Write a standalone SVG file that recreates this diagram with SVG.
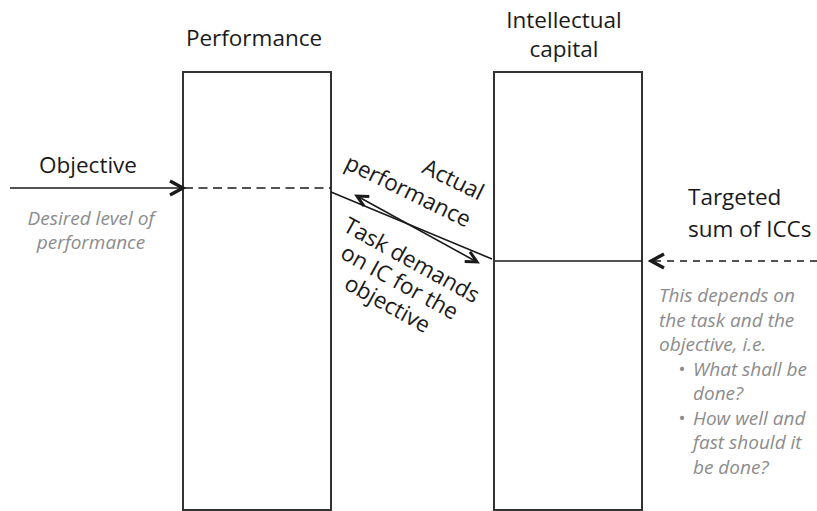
<svg xmlns="http://www.w3.org/2000/svg" width="817" height="511" viewBox="0 0 817 511">
  <style>
    .box { fill: #ffffff; stroke: #333333; stroke-width: 2; }
    .title { font-family: "Open Sans", "Liberation Sans", sans-serif; font-size: 22.5px; fill: #1a1a1a; }
    .note { font-family: "Open Sans", "Liberation Sans", sans-serif; font-size: 19px; font-style: italic; fill: #8c8c8c; }
    .wire { fill: none; stroke: #1a1a1a; stroke-width: 1.6; }
    .dash { fill: none; stroke: #1a1a1a; stroke-width: 1.5; }
  </style>
  <defs>
    <marker id="chev" viewBox="0 0 18 18" refX="15" refY="9" markerWidth="18" markerHeight="18" markerUnits="userSpaceOnUse" orient="auto-start-reverse">
      <path d="M2,2 L15,9 L2,16" fill="none" stroke="#1a1a1a" stroke-width="3.4" stroke-linejoin="miter"/>
    </marker>
    <marker id="chevS" viewBox="0 0 16 16" refX="13" refY="8" markerWidth="16" markerHeight="16" markerUnits="userSpaceOnUse" orient="auto-start-reverse">
      <path d="M2,2.5 L13,8 L2,13.5" fill="none" stroke="#1a1a1a" stroke-width="3" stroke-linejoin="miter"/>
    </marker>
  </defs>

  <!-- Performance column -->
  <g id="performance">
    <rect class="box" x="183" y="72" width="148" height="438"/>
    <text class="title" x="254" y="46" text-anchor="middle">Performance</text>
  </g>

  <!-- Intellectual capital column -->
  <g id="intellectual-capital">
    <rect class="box" x="494" y="72" width="148" height="438"/>
    <text class="title" x="564" y="28" text-anchor="middle">Intellectual</text>
    <text class="title" x="564" y="57" text-anchor="middle">capital</text>
  </g>

  <!-- Objective input -->
  <g id="objective">
    <text class="title" x="88" y="173" text-anchor="middle">Objective</text>
    <text class="note" x="91" y="225" text-anchor="middle">Desired level of</text>
    <text class="note" x="91" y="249" text-anchor="middle">performance</text>
  </g>

  <!-- Targeted sum input -->
  <g id="targeted-sum">
    <text class="title" x="688" y="205">Targeted</text>
    <text class="title" x="688" y="237">sum of ICCs</text>
    <text class="note" x="659" y="302">This depends on</text>
    <text class="note" x="659" y="326.5">the task and the</text>
    <text class="note" x="659" y="351">objective, i.e.</text>
    <text class="note" x="678" y="375.5">•</text>
    <text class="note" x="693" y="375.5">What shall be</text>
    <text class="note" x="693" y="400">done?</text>
    <text class="note" x="678" y="424.5">•</text>
    <text class="note" x="693" y="424.5">How well and</text>
    <text class="note" x="693" y="449">fast should it</text>
    <text class="note" x="693" y="473.5">be done?</text>
  </g>

  <!-- Diagonal labels -->
  <g id="actual-performance" transform="translate(404,197.5) rotate(26)">
    <text class="title" x="69" y="-30" text-anchor="end">Actual</text>
    <text class="title" x="69" y="0" text-anchor="end">performance</text>
  </g>
  <g id="task-demands" transform="translate(408,267) rotate(29)">
    <text class="title" x="0" y="0" text-anchor="middle">Task demands</text>
    <text class="title" x="0" y="25" text-anchor="middle">on IC for the</text>
    <text class="title" x="0" y="50" text-anchor="middle">objective</text>
  </g>

  <!-- Connectors -->
  <g id="connectors">
    <line class="wire" x1="10" y1="188" x2="183" y2="188" marker-end="url(#chev)"/>
    <line class="dash" x1="184" y1="188" x2="331" y2="188" stroke-dasharray="9 5.5"/>
    <line class="wire" x1="331" y1="192" x2="492" y2="259"/>
    <line class="wire" x1="495" y1="261" x2="642" y2="261"/>
    <line class="wire" x1="357" y1="196" x2="477" y2="262" marker-start="url(#chevS)" marker-end="url(#chevS)"/>
    <line class="dash" x1="817" y1="261" x2="651" y2="261" stroke-dasharray="7 6" marker-end="url(#chev)"/>
  </g>
</svg>
